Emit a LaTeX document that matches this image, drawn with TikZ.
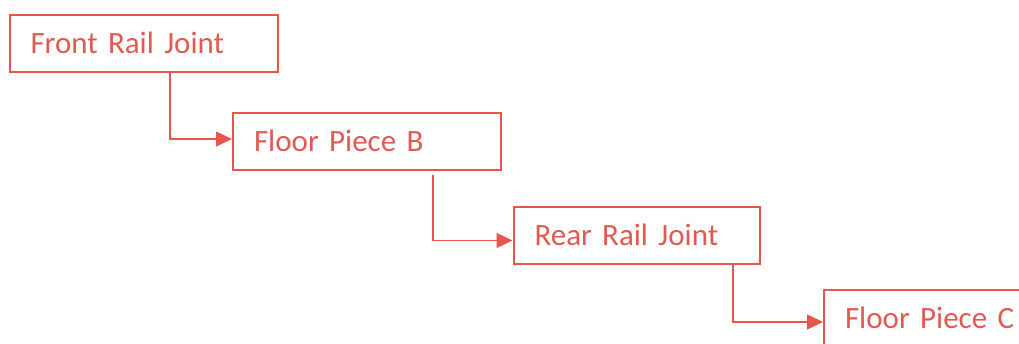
\documentclass[tikz,border=0pt]{standalone}
\usepackage{fontspec}
\setmainfont{Carlito}
\usetikzlibrary{arrows.meta}
\definecolor{rc}{HTML}{E8554B}
\definecolor{tc}{HTML}{E05A52}
\tikzset{
  box/.style={draw=rc, line width=2pt, rectangle, anchor=north west,
    minimum height=57pt, inner xsep=21pt, inner ysep=0pt,
    text height=20pt, text depth=0pt, text=tc,
    font=\fontsize{31}{36}\selectfont},
  conn/.style={draw=rc, line width=1.4pt, -{Triangle[length=16pt,width=15pt]}}
}
\begin{document}
\begin{tikzpicture}[x=1pt,y=1pt]
\useasboundingbox (0,0) rectangle (1019,-343);
\node[box, minimum width=268pt, text width=226pt] (a) at (8.5,-13.5) {Front Rail Joint};
\node[box, minimum width=268pt, text width=226pt] (b) at (232,-112) {Floor Piece B};
\node[box, minimum width=246pt, text width=204pt] (c) at (512.5,-206) {Rear Rail Joint};
\node[box, minimum width=268pt, text width=226pt] (d) at (823,-288.5) {Floor Piece C};
\coordinate (s1) at (170,-71.5);
\coordinate (s2) at (433,-175);
\coordinate (s3) at (733,-263);
\draw[conn] (s1) |- ([yshift=2.5pt]b.west);
\draw[conn] (s2) |- ([yshift=-5pt]c.west);
\draw[conn] (s3) |- ([yshift=-4pt]d.west);
\end{tikzpicture}
\end{document}
